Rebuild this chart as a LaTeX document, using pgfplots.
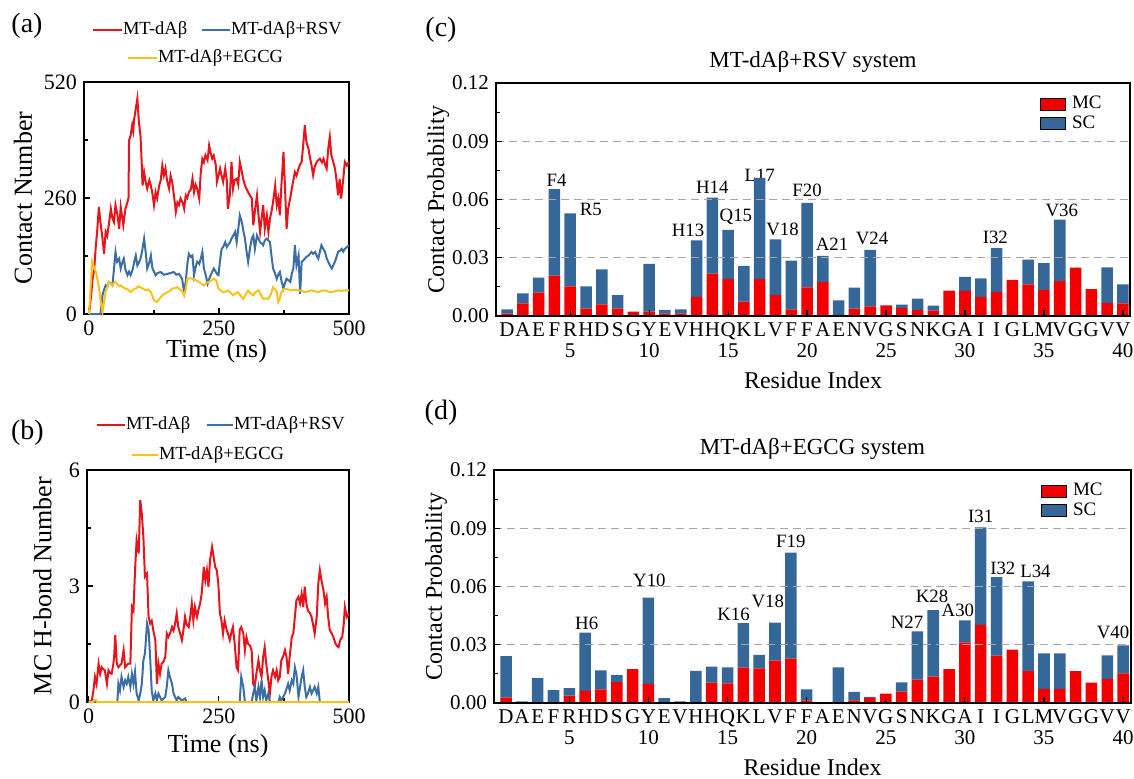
\documentclass[border=0pt]{standalone}
\usepackage{fontspec}
\setmainfont{Liberation Serif}
\usepackage{pgfplots}
\pgfplotsset{compat=1.18}

\definecolor{lred}{HTML}{E8141B}
\definecolor{lblue}{HTML}{3A6EA5}
\definecolor{lyellow}{HTML}{F7C21A}
\definecolor{bred}{HTML}{F20000}
\definecolor{bblue}{HTML}{356799}

\newcommand\fs[1]{\fontsize{#1}{#1}\selectfont}
\tikzset{annot/.style={font=\fs{9.4}},
  gridl/.style={dash pattern=on 4pt off 2.5pt, gray!70, line width=0.6pt}}

\pgfplotsset{
  base/.style={scale only axis, anchor=south west, tick pos=left, tick align=inside,
    axis line style={line width=0.75pt}, major tick length=3pt, minor tick length=1.8pt,
    every tick/.style={black, line width=0.6pt},
    /pgf/number format/assume math mode=true, enlargelimits=false},
  ts/.style={base, xtick={0,250,500}, xmax=500, ymin=0, minor x tick num=1, minor y tick num=1,
    tick label style={font=\fs{11}}, label style={font=\fs{13}}, xlabel={Time (ns)}},
  res/.style={base, width=318pt, height=116.5pt, ybar stacked, bar width=0.73,
    xmin=0.3, xmax=40.45, ymin=0, ymax=0.12, ytick={0,0.03,0.06,0.09,0.12}, minor y tick num=1,
    axis on top,
    yticklabel style={font=\fs{10.5}, /pgf/number format/.cd, fixed, fixed zerofill, precision=2},
    xtick={5,10,...,40}, xticklabel={\vphantom{D}\\\pgfmathprintnumber{\tick}},
    xticklabel style={font=\fs{10.5}, align=center},
    extra x ticks={1,...,40},
    extra x tick labels={D,A,E,F,R,H,D,S,G,Y,E,V,H,H,Q,K,L,V,F,F,A,E,N,V,G,S,N,K,G,A,I,I,G,L,M,V,G,G,V,V},
    extra x tick style={major tick length=0pt},
    xlabel={Residue Index}, ylabel={Contact Probability}, label style={font=\fs{12}},
    ylabel style={at={(axis description cs:-0.091,0.5)}, anchor=center},
    xlabel style={at={(axis description cs:0.5,-0.277)}, anchor=center},
    title style={font=\fs{11.5}, at={(axis description cs:0.5,1.039)}, anchor=center},
    legend style={draw=none, fill=none, at={(1,1)}, anchor=north east, xshift=-13.5pt, yshift=-6pt,
      font=\fs{9.5}, row sep=0.8pt, inner sep=0pt, nodes={inner sep=0.5pt}, cells={anchor=west},
      /tikz/every odd column/.append style={column sep=2.5pt}},
    area legend, legend image post style={draw=none, xscale=0.74, yscale=1.05}},
}

\begin{document}
\begin{tikzpicture}
\useasboundingbox (0,0) rectangle (567pt,389pt);

% (a) contact number
\begin{axis}[ts, at={(42pt,232pt)}, width=132.5pt, height=116pt,
  xmin=-9.6, ymax=520, ytick={0,260,520}, ylabel={Contact Number},
  xlabel style={at={(axis description cs:0.5,-0.162)}, anchor=center},
  ylabel style={at={(axis description cs:-0.23,0.5)}, anchor=center}]
\addplot[lred, line width=1pt] coordinates {
(0,0) (4,40) (7,80) (10,100) (13,150) (16,190) (19,240) (22,206) (26,169) (29,135) (32,184) (35,175)
(38,199) (42,236) (45,215) (48,206) (51,244) (55,220) (58,191) (61,240) (64,215) (66,199) (70,236)
(74,251) (76,260) (77,389) (80,400) (83,423) (85,410) (87,438) (90,460) (93,483) (96,430) (99,400)
(101,350) (103,288) (106,318) (109,296) (112,281) (116,300) (119,288) (122,270) (125,244) (128,273)
(131,259) (135,288) (138,300) (141,333) (144,311) (147,326) (150,300) (154,281) (157,310) (160,296)
(164,260) (167,229) (170,250) (173,244) (176,259) (180,250) (183,236) (186,266) (189,260) (192,273)
(196,280) (199,303) (202,273) (205,290) (208,281) (212,259) (215,318) (218,348) (221,340) (224,356)
(228,345) (231,378) (234,360) (237,348) (240,355) (244,333) (246,296) (249,310) (252,326) (255,310)
(258,296) (262,326) (265,300) (267,236) (271,266) (274,341) (277,281) (280,300) (284,303) (287,290)
(290,341) (294,318) (297,300) (300,288) (303,280) (306,273) (310,265) (313,259) (316,199) (320,240)
(323,266) (326,221) (329,184) (332,215) (335,244) (338,191) (342,221) (345,184) (348,214) (351,230)
(354,251) (358,288) (361,244) (364,259) (367,221) (370,288) (374,363) (377,281) (380,191) (383,236)
(387,260) (390,281) (393,300) (396,318) (399,310) (403,326) (406,335) (409,341) (412,380) (415,423)
(418,386) (422,371) (425,350) (428,333) (431,311) (434,330) (438,341) (441,345) (444,348) (448,340)
(451,348) (454,335) (457,326) (460,370) (463,397) (466,356) (470,340) (473,326) (476,300) (479,266)
(482,303) (485,259) (489,303) (492,341) (496,333) (500,341)};
\addplot[lblue, line width=1pt] coordinates {
(0,0) (22,0) (24,20) (26,42) (29,55) (32,64) (35,60) (38,72) (42,68) (45,64) (48,100) (51,139)
(54,117) (58,124) (61,102) (64,115) (67,124) (70,100) (74,87) (77,95) (80,87) (84,100) (87,117)
(90,131) (93,109) (96,115) (99,124) (102,140) (106,169) (109,139) (112,102) (116,115) (119,131)
(122,102) (125,95) (128,87) (132,92) (138,94) (144,88) (151,90) (157,92) (163,94) (168,88) (173,90)
(179,79) (183,49) (186,72) (189,110) (192,135) (196,128) (199,131) (202,87) (205,105) (208,117)
(212,112) (215,124) (218,139) (221,102) (225,85) (228,68) (231,78) (234,87) (237,95) (240,102)
(244,94) (247,88) (249,87) (252,120) (255,146) (258,150) (262,161) (265,150) (267,154) (271,160)
(274,169) (277,175) (281,184) (284,161) (287,190) (290,221) (294,206) (297,185) (300,169) (303,140)
(306,117) (310,150) (313,169) (316,176) (319,146) (323,176) (326,168) (329,161) (332,158) (335,154)
(338,165) (342,169) (345,165) (348,161) (351,130) (354,102) (358,90) (361,79) (364,88) (367,94)
(370,75) (374,57) (377,70) (380,79) (384,75) (387,72) (390,90) (393,102) (396,154) (399,109)
(403,131) (406,45) (409,117) (412,120) (415,124) (418,128) (422,131) (425,135) (428,139) (431,135)
(435,139) (438,130) (441,124) (444,140) (447,154) (451,145) (454,139) (457,125) (460,117) (464,108)
(467,102) (470,110) (473,117) (476,128) (479,139) (483,142) (486,146) (489,140) (492,146) (496,150)
(500,154)};
\addplot[lyellow, line width=1pt] coordinates {
(0,0) (3,57) (6,117) (8,110) (10,102) (13,95) (16,79) (19,60) (22,34) (26,4) (29,27) (32,49) (35,60)
(38,72) (42,68) (45,64) (48,70) (51,72) (55,66) (58,62) (61,64) (65,60) (70,57) (75,55) (80,49)
(85,55) (90,57) (95,62) (99,60) (104,57) (109,53) (114,55) (119,49) (122,40) (125,31) (128,28)
(131,27) (136,35) (141,42) (146,46) (151,49) (156,52) (160,57) (165,58) (170,60) (175,55) (180,50)
(183,42) (186,55) (189,79) (194,80) (199,79) (205,76) (212,72) (216,68) (221,64) (226,70) (231,72)
(236,76) (240,79) (245,75) (249,57) (254,52) (258,49) (263,50) (267,53) (272,48) (277,42) (282,46)
(287,49) (292,40) (297,34) (302,45) (306,53) (311,46) (316,42) (321,50) (326,53) (330,44) (335,34)
(340,35) (345,34) (350,45) (354,60) (358,55) (361,49) (364,27) (367,35) (370,49) (374,55) (377,57)
(383,55) (390,53) (396,54) (403,53) (409,52) (415,49) (422,51) (428,53) (435,51) (441,49) (447,52)
(454,53) (460,50) (467,49) (473,51) (479,53) (486,52) (493,53) (500,53)};
\end{axis}

% (b) MC H-bond number
\begin{axis}[ts, at={(43.5pt,38pt)}, width=131pt, height=116pt,
  xmin=-3.3, ymax=6, ytick={0,3,6}, ylabel={MC H-bond Number},
  xlabel style={at={(axis description cs:0.5,-0.19)}, anchor=center},
  ylabel style={at={(axis description cs:-0.17,0.5)}, anchor=center}]
\addplot[lred, line width=1pt] coordinates {
(0,0) (6,0.04) (9,0.3) (12,0.65) (15,0.47) (19,0.99) (22,0.73) (25,0.9) (28,0.85) (31,0.82) (35,0.47)
(38,0.82) (41,0.75) (44,0.73) (47,0.95) (49,1.2) (51,1.73) (54,0.99) (57,0.9) (60,0.95) (63,0.99)
(67,1.34) (70,0.9) (73,0.95) (76,0.99) (80,0.99) (83,2.46) (86,2.37) (89,3.41) (92,4.18) (96,3.84)
(99,5.22) (102,4.87) (105,4.27) (108,3.24) (112,3.32) (115,2.2) (118,2.03) (121,2.1) (124,1.86)
(128,1.6) (131,0.47) (134,0.99) (137,0.73) (140,0.99) (144,1.05) (147,1.16) (150,1.77) (153,1.68)
(157,1.8) (160,1.94) (163,1.85) (166,2.03) (169,2.29) (172,1.94) (175,1.8) (179,1.6) (182,1.86)
(185,2.2) (188,2.0) (192,1.94) (195,2.2) (198,2.55) (201,2.11) (204,2.46) (208,2.2) (211,2.4)
(214,2.55) (217,2.8) (221,3.49) (224,3.15) (227,3.41) (230,2.98) (233,3.67) (237,4.01) (240,3.75)
(243,3.49) (246,3.41) (249,3.06) (252,2.29) (255,2.11) (258,1.77) (261,2.11) (265,1.86) (268,1.75)
(271,1.6) (274,1.8) (277,1.94) (281,1.42) (284,0.9) (287,0.82) (290,1.86) (293,1.94) (297,1.77)
(300,1.34) (303,1.68) (306,1.51) (310,1.45) (313,1.34) (316,0.47) (319,0.39) (322,0.73) (326,1.08)
(329,0.82) (332,0.65) (335,1.16) (338,1.42) (341,0.99) (345,0.56) (348,0.22) (351,0.65) (354,0.82)
(358,0.65) (361,0.82) (364,0.56) (367,0.65) (370,1.08) (374,1.2) (377,1.34) (380,1.16) (383,0.73)
(386,1.16) (390,1.68) (393,1.77) (396,2.2) (399,2.63) (403,2.72) (406,2.55) (409,2.8) (412,2.46)
(415,2.98) (418,2.55) (421,2.37) (425,2.3) (428,2.2) (431,2.0) (434,1.77) (438,2.2) (441,3.06)
(444,3.41) (447,3.15) (451,2.89) (454,2.55) (457,2.72) (460,2.2) (463,1.86) (467,1.77) (470,1.68)
(474,1.51) (477,1.45) (480,1.42) (483,1.6) (487,1.68) (490,2.03) (492,2.46) (496,2.2) (500,2.29)};
\addplot[lblue, line width=1pt] coordinates {
(0,0) (55,0) (57,0.47) (60,0.3) (63,0.65) (67,0.39) (70,0.56) (73,0.47) (76,0.65) (80,0.39) (83,0.73)
(86,0.47) (89,0.78) (92,0.22) (96,0.04) (99,0.22) (102,0.47) (105,1.08) (108,1.25) (112,2.03)
(115,1.86) (118,1.16) (121,0.3) (124,0.04) (128,0.22) (131,0.04) (134,0.22) (140,0.04) (147,0.13)
(150,0.4) (153,0.82) (156,0.65) (160,0.47) (163,0.22) (169,0.04) (172,0.13) (179,0.04) (185,0.09)
(188,0) (290,0) (293,0.65) (297,0.39) (300,0) (313,0) (316,0.22) (319,0.39) (322,0.04) (326,0.39)
(329,0.13) (332,0.56) (335,0.13) (338,0.3) (341,0.04) (345,0.22) (348,0) (364,0) (367,0.13)
(370,0.04) (377,0.22) (383,0.47) (386,0.3) (390,0.56) (393,0.47) (396,0.9) (399,0.73) (403,0.13)
(406,0.39) (409,0.65) (412,0.82) (415,0.39) (418,0.13) (421,0.22) (425,0.39) (428,0.22) (431,0.3)
(434,0.39) (438,0.22) (441,0.39) (444,0) (500,0)};
\addplot[lyellow, line width=1pt] coordinates {
(0,0) (8,0) (10,0.05) (14,0.05) (16,0) (500,0)};
\end{axis}

% (c) RSV system
\begin{axis}[res, at={(248pt,231pt)}, width=317pt, title={MT-dAβ+RSV system}]
\draw[gridl] (axis cs:0.3,0.03) -- (axis cs:40.45,0.03);
\draw[gridl] (axis cs:0.3,0.06) -- (axis cs:40.45,0.06);
\draw[gridl] (axis cs:0.3,0.09) -- (axis cs:40.45,0.09);
\addplot[fill=bred, draw=none] coordinates {
(1,0.0012) (2,0.0065) (3,0.0120) (4,0.0208) (5,0.0153) (6,0.0038) (7,0.0060) (8,0.0038) (9,0.0022)
(10,0.0022) (11,0.0012) (12,0.0012) (13,0.0098) (14,0.0218) (15,0.0190) (16,0.0074) (17,0.0190)
(18,0.0107) (19,0.0034) (20,0.0148) (21,0.0174) (22,0.0005) (23,0.0038) (24,0.0050) (25,0.0055)
(26,0.0040) (27,0.0031) (28,0.0029) (29,0.0131) (30,0.0129) (31,0.0098) (32,0.0124) (33,0.0186)
(34,0.0163) (35,0.0134) (36,0.0180) (37,0.0249) (38,0.0139) (39,0.0067) (40,0.0065)};
\addlegendentry{MC}
\addplot[fill=bblue, draw=none] coordinates {
(1,0.0022) (2,0.0052) (3,0.0078) (4,0.0445) (5,0.0375) (6,0.0115) (7,0.0180) (8,0.0070) (9,0)
(10,0.0246) (11,0.0019) (12,0.0022) (13,0.0292) (14,0.0392) (15,0.0253) (16,0.0184) (17,0.0522)
(18,0.0288) (19,0.0251) (20,0.0435) (21,0.0136) (22,0.0076) (23,0.0108) (24,0.0290) (25,0)
(26,0.0018) (27,0.0058) (28,0.0024) (29,0) (30,0.0072) (31,0.0096) (32,0.0226) (33,0) (34,0.0127)
(35,0.0138) (36,0.0317) (37,0) (38,0) (39,0.0184) (40,0.0098)};
\addlegendentry{SC}
\node[annot] at (axis cs:4.13,0.0700) {F4};
\node[annot] at (axis cs:6.30,0.0548) {R5};
\node[annot] at (axis cs:12.46,0.0439) {H13};
\node[annot] at (axis cs:14.0,0.0663) {H14};
\node[annot] at (axis cs:15.49,0.0511) {Q15};
\node[annot] at (axis cs:17.0,0.0726) {L17};
\node[annot] at (axis cs:18.45,0.0448) {V18};
\node[annot] at (axis cs:20.0,0.0645) {F20};
\node[annot] at (axis cs:21.58,0.0371) {A21};
\node[annot] at (axis cs:24.11,0.0397) {V24};
\node[annot] at (axis cs:31.92,0.0405) {I32};
\node[annot] at (axis cs:36.13,0.0546) {V36};
\end{axis}

% (d) EGCG system
\begin{axis}[res, at={(247pt,37.5pt)}, width=318.5pt, xmin=0.24, xmax=40.5, title={MT-dAβ+EGCG system}]
\draw[gridl] (axis cs:0.24,0.03) -- (axis cs:40.5,0.03);
\draw[gridl] (axis cs:0.24,0.06) -- (axis cs:40.5,0.06);
\draw[gridl] (axis cs:0.24,0.09) -- (axis cs:40.5,0.09);
\addplot[fill=bred, draw=none] coordinates {
(1,0.0028) (2,0.0004) (3,0.0004) (4,0) (5,0.0038) (6,0.0063) (7,0.0070) (8,0.0108) (9,0.0174)
(10,0.0099) (11,0) (12,0) (13,0.0005) (14,0.0105) (15,0.0101) (16,0.0182) (17,0.0179) (18,0.0218)
(19,0.0229) (20,0.0014) (21,0) (22,0) (23,0.0014) (24,0.0027) (25,0.0048) (26,0.0058) (27,0.0121)
(28,0.0136) (29,0.0174) (30,0.0312) (31,0.0403) (32,0.0244) (33,0.0275) (34,0.0164) (35,0.0073)
(36,0.0073) (37,0.0164) (38,0.0105) (39,0.0124) (40,0.0153)};
\addlegendentry{MC}
\addplot[fill=bblue, draw=none] coordinates {
(1,0.0214) (2,0.0005) (3,0.0124) (4,0.0066) (5,0.0039) (6,0.0299) (7,0.0098) (8,0.0035) (9,0)
(10,0.0444) (11,0.0025) (12,0.0009) (13,0.0160) (14,0.0082) (15,0.0083) (16,0.0229) (17,0.0069)
(18,0.0196) (19,0.0546) (20,0.0056) (21,0) (22,0.0184) (23,0.0043) (24,0.0004) (25,0) (26,0.0048)
(27,0.0248) (28,0.0342) (29,0) (30,0.0114) (31,0.0501) (32,0.0404) (33,0) (34,0.0463) (35,0.0183)
(36,0.0183) (37,0) (38,0) (39,0.0121) (40,0.0144)};
\addlegendentry{SC}
\node[annot] at (axis cs:6.10,0.0409) {H6};
\node[annot] at (axis cs:10.06,0.0633) {Y10};
\node[annot] at (axis cs:15.38,0.0457) {K16};
\node[annot] at (axis cs:17.54,0.0521) {V18};
\node[annot] at (axis cs:19.0,0.0830) {F19};
\node[annot] at (axis cs:26.34,0.0418) {N27};
\node[annot] at (axis cs:27.92,0.0547) {K28};
\node[annot] at (axis cs:29.56,0.0478) {A30};
\node[annot] at (axis cs:31.0,0.0959) {I31};
\node[annot] at (axis cs:32.40,0.0693) {I32};
\node[annot] at (axis cs:34.46,0.0676) {L34};
\node[annot] at (axis cs:39.36,0.0366) {V40};
\end{axis}

% panel letters
\node[font=\fs{14}] at (13.5pt,376pt) {(a)};
\node[font=\fs{14}] at (13.75pt,172.5pt) {(b)};
\node[font=\fs{14}] at (220.5pt,374pt) {(c)};
\node[font=\fs{14}] at (220.5pt,182.5pt) {(d)};

% legends of (a) and (b)
\begin{scope}[font=\fs{9.25}, inner sep=0pt]
\draw[lred, line width=1pt] (46.5pt,374pt) -- (61pt,374pt) node[right, black] {MT-dAβ};
\draw[lblue, line width=1pt] (101pt,374pt) -- (115pt,374pt) node[right, black] {MT-dAβ+RSV};
\draw[lyellow, line width=1pt] (64pt,360pt) -- (78.5pt,360pt) node[right, black] {MT-dAβ+EGCG};
\draw[lred, line width=1pt] (48.5pt,176.5pt) -- (62.5pt,176.5pt) node[right, black] {MT-dAβ};
\draw[lblue, line width=1pt] (103.5pt,176.5pt) -- (116.5pt,176.5pt) node[right, black] {MT-dAβ+RSV};
\draw[lyellow, line width=1pt] (66pt,161.5pt) -- (79pt,161.5pt) node[right, black] {MT-dAβ+EGCG};
\end{scope}
\end{tikzpicture}
\end{document}
